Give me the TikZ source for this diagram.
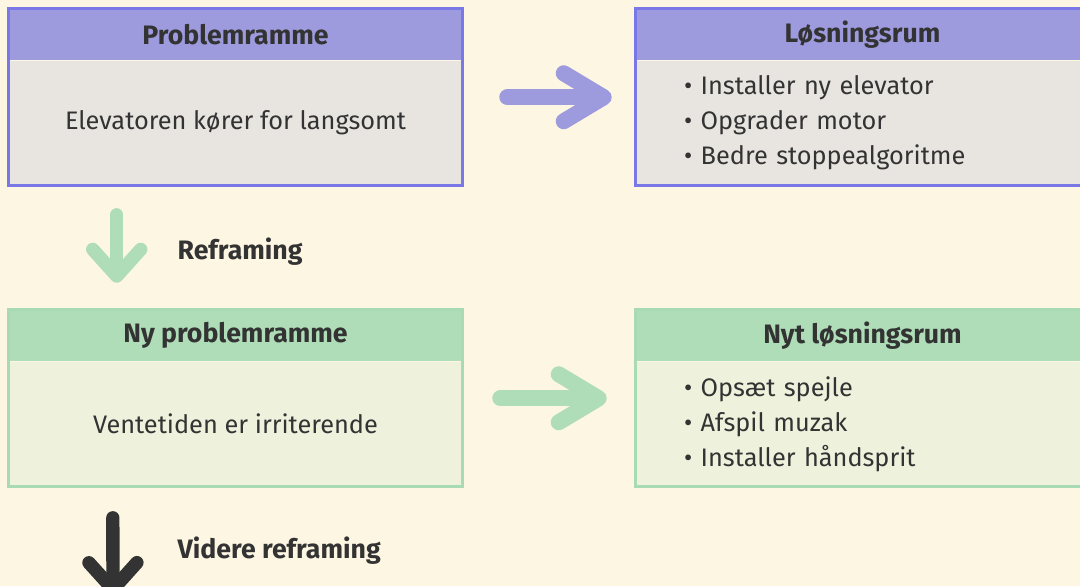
\documentclass[tikz,border=0pt]{standalone}
\usepackage{fontspec}
\setmainfont{Fira Sans}
\usetikzlibrary{positioning,arrows.meta,calc}

\definecolor{cream}{HTML}{FDF6E3}
\definecolor{ink}{HTML}{333333}
\definecolor{lilla}{HTML}{9D9BDD}
\definecolor{lillakant}{HTML}{7A78E6}
\definecolor{graa}{HTML}{E8E5E1}
\definecolor{groen}{HTML}{AEDDB8}
\definecolor{groenkant}{HTML}{A8DAB3}
\definecolor{lysgroen}{HTML}{EEF2DC}

\tikzset{
  hdbox/.style={minimum width=339.75pt, minimum height=38.25pt, inner sep=0pt,
    text=ink, font=\fontsize{20}{22}\selectfont\bfseries},
  bodybox/.style={minimum width=339.75pt, minimum height=93.75pt, inner sep=0pt,
    text=ink, font=\fontsize{19}{26.25}\selectfont},
  listbox/.style={bodybox, text width=267.75pt, align=left},
  fatarrow/.style={line width=12pt, line cap=round,
    -{Straight Barb[round, length=30pt, width=36pt]}},
  downarrow/.style={line width=10pt, line cap=round,
    -{Straight Barb[round, length=20pt, width=36pt]}},
  lbl/.style={anchor=west, text=ink, font=\fontsize{20}{22}\selectfont\bfseries}
}

\begin{document}
\begin{tikzpicture}[x=0.75pt, y=-0.75pt]
  \fill[cream] (0,0) rectangle (1080,586);
  \useasboundingbox (0,0) rectangle (1080,586);
  \clip (0,0) rectangle (1080,586);

  % Problemramme
  \node[hdbox, fill=lilla] (pr1h) at (235.5, 34.5) {Problemramme};
  \node[bodybox, fill=graa, below=0pt of pr1h] (pr1) {Elevatoren kører for langsomt};
  \draw[lillakant, line width=2pt] (pr1h.north west) rectangle (pr1.south east);

  % Løsningsrum
  \node[hdbox, fill=lilla] (sol1h) at (862.5, 34.5) {Løsningsrum};
  \node[listbox, fill=graa, below=0pt of sol1h] (sol1)
    {• Installer ny elevator\\ • Opgrader motor\\ • Bedre stoppealgoritme};
  \draw[lillakant, line width=2pt] (sol1h.north west) rectangle (sol1.south east);

  % Ny problemramme
  \node[hdbox, fill=groen] (pr2h) at (235.5, 335.5) {Ny problemramme};
  \node[bodybox, fill=lysgroen, below=0pt of pr2h] (pr2) {Ventetiden er irriterende};
  \draw[groenkant, line width=2pt] (pr2h.north west) rectangle (pr2.south east);

  % Nyt løsningsrum
  \node[hdbox, fill=groen] (sol2h) at (862.5, 335.5) {Nyt løsningsrum};
  \node[listbox, fill=lysgroen, below=0pt of sol2h] (sol2)
    {• Opsæt spejle\\ • Afspil muzak\\ • Installer håndsprit};
  \draw[groenkant, line width=2pt] (sol2h.north west) rectangle (sol2.south east);

  % Pile
  \draw[fatarrow, lilla, shorten <=33.75pt, shorten >=18pt]
    ($(pr1h.north east)!.5!(pr1.south east)$) -- ($(sol1h.north west)!.5!(sol1.south west)$);
  \draw[fatarrow, groen, shorten <=28.5pt, shorten >=21.75pt]
    ($(pr2h.north east)!.5!(pr2.south east)$) -- ($(sol2h.north west)!.5!(sol2.south west)$);
  \draw[downarrow, groen, shorten <=21.75pt, shorten >=20.25pt]
    ([xshift=81pt]pr1.south west) -- ([xshift=81pt]pr2h.north west);
  \node[lbl] (refr) at (173, 252) {Reframing};

  \coordinate (next) at (113, 596);
  \draw[downarrow, ink, shorten <=23.25pt]
    ([xshift=78pt]pr2.south west) -- (next);
  \node[lbl] (videre) at (173, 551) {Videre reframing};
\end{tikzpicture}
\end{document}
